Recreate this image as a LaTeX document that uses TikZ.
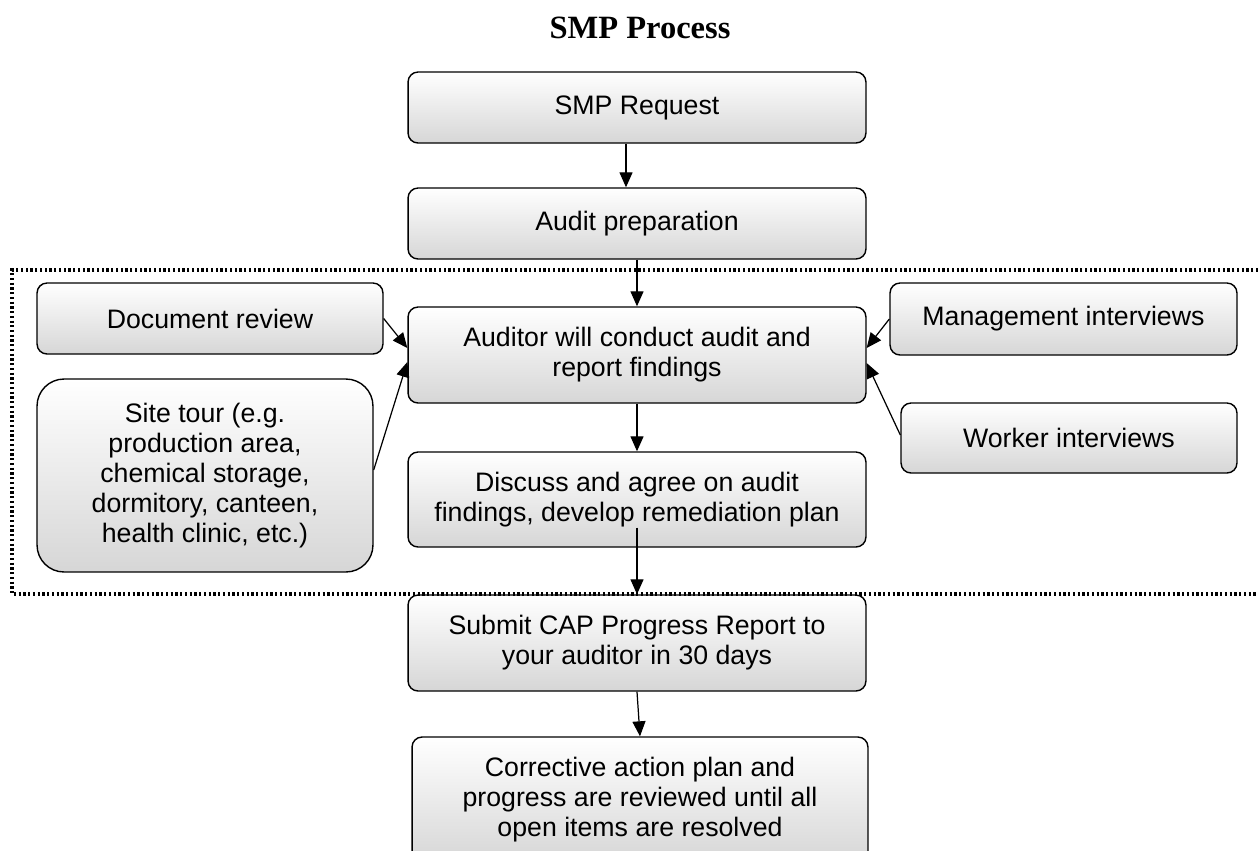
\documentclass[tikz,border=0pt]{standalone}
\usepackage{fontspec}
\setmainfont{Liberation Serif}
\setsansfont{Liberation Sans}
\usetikzlibrary{arrows.meta}

\tikzset{
  procbox/.style={draw, line width=0.8pt, rounded corners=0.2cm,
    top color=white, bottom color=black!16, inner sep=0pt, align=center,
    font=\sffamily\fontsize{15.2}{17.07}\selectfont},
  flow/.style={-{Triangle[length=0.3cm,width=0.26cm]}, line width=0.7pt},
  auditzone/.style={line width=1.8pt, dash pattern=on 0.045cm off 0.05cm}
}

\begin{document}
\begin{tikzpicture}[x=0.02cm,y=-0.02cm]
      \useasboundingbox (0,0) rectangle (1258,850);
      \clip (0,0) rectangle (1258,850);

      \node (title) at (640,28) {\fontsize{18.5}{20}\selectfont\bfseries SMP Process};

      % middle column, top to bottom
      \node[procbox, minimum width=9.16cm, minimum height=1.42cm] (req) at (637,107.5) {SMP Request};
      \node[procbox, minimum width=9.16cm, minimum height=1.42cm] (prep) at (637,223.5) {Audit preparation};
      \node[procbox, minimum width=9.16cm, minimum height=1.92cm] (aud) at (637,355)
        {Auditor will conduct audit and\\report findings};
      \node[procbox, minimum width=9.16cm, minimum height=1.9cm] (disc) at (637,499.5)
        {Discuss and agree on audit\\findings, develop remediation plan};
      \node[procbox, minimum width=9.16cm, minimum height=1.92cm] (sub) at (637,643)
        {Submit CAP Progress Report to\\your auditor in 30 days};
      \node[procbox, minimum width=9.12cm, minimum height=2.52cm] (corr) at (640,800)
        {Corrective action plan and\\progress are reviewed until all\\open items are resolved};

      % side boxes feeding the audit
      \node[procbox, minimum width=6.92cm, minimum height=1.42cm] (doc) at (210,318.5) {Document review};
      \node[procbox, rounded corners=0.54cm, minimum width=6.72cm, minimum height=3.86cm] (site) at (205,475.5)
        {Site tour (e.g.\\production area,\\chemical storage,\\dormitory, canteen,\\health clinic, etc.)};
      \node[procbox, minimum width=6.94cm, minimum height=1.44cm] (mgmt) at (1063.5,319) {Management interviews};
      \node[procbox, minimum width=6.72cm, minimum height=1.4cm] (work) at (1069,438) {Worker interviews};

      % on-site part
      \draw[auditzone] (1258,270) -- (12,270) -- (12,594) -- (1258,594);

      \draw[flow] ([xshift=-0.22cm]req.south) -- ([xshift=-0.22cm]prep.north);
      \draw[flow] (prep.south) -- (aud.north);
      \draw[flow] (aud.south) -- (disc.north);
      \draw[flow] ([yshift=0.4cm]disc.south) -- (sub.north);
      \draw[flow] (sub.south) -- (corr.north);

      \draw[flow] (doc.east) -- ([yshift=0.14cm]aud.west);
      \draw[flow] ([yshift=0.11cm]site.east) -- ([yshift=-0.14cm]aud.west);
      \draw[flow] (mgmt.west) -- ([yshift=0.14cm]aud.east);
      \draw[flow] ([yshift=0.06cm]work.west) -- ([yshift=-0.16cm]aud.east);

\end{tikzpicture}
\end{document}
